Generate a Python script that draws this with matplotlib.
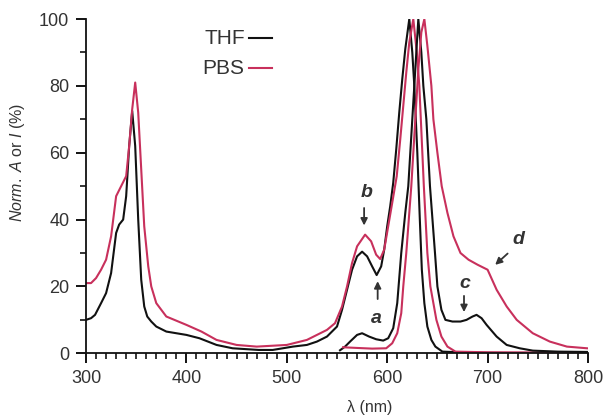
import matplotlib
matplotlib.use("Agg")
import matplotlib.pyplot as plt
from matplotlib.ticker import MultipleLocator

plt.rcParams['font.family'] = ['Liberation Sans', 'DejaVu Sans']
plt.rcParams['mathtext.fontset'] = 'custom'
plt.rcParams['mathtext.rm'] = 'Liberation Sans'
plt.rcParams['mathtext.it'] = 'Liberation Sans:italic'

# THF absorption
thf_abs_x = [300, 305, 309, 315, 320, 325, 330, 333, 337, 340, 343, 346, 349, 352, 355, 358,
             361, 365, 370, 380, 390, 400, 413, 430, 446, 472, 486, 506, 520, 530, 540, 550,
             555, 560, 565, 570, 575, 580, 585, 589.5, 594, 597, 600, 603, 606, 609, 612, 615,
             618, 622, 625, 627, 630, 632.5, 634.5, 637, 640, 644, 648, 655, 680, 720, 800]
thf_abs_y = [10, 10.5, 11.5, 15, 18, 24, 36, 38.5, 40, 47, 62, 72.5, 62, 40, 22, 14,
             11, 9.5, 8, 6.5, 6, 5.5, 4.5, 2.5, 1.5, 1, 1, 2, 2.5, 3.5, 5, 8,
             13, 19, 25, 29, 30.4, 29, 26, 23.4, 26, 31, 38, 44, 51, 61, 72, 82,
             91, 100, 90, 80, 60, 40, 25, 15, 8, 4, 2, 0.5, 0.2, 0.1, 0.1]

# PBS absorption
pbs_abs_x = [300, 305, 310, 315, 320, 325, 330, 335, 340, 343, 346, 349, 352, 355, 358, 362,
             365, 370, 380, 400, 415, 430, 450, 470, 500, 520, 530, 540, 548, 555, 560, 565,
             570, 578, 584, 589, 593, 597, 601, 605, 609.5, 613, 616, 619, 622, 626,
             629.5, 632, 633.5, 636.5, 640, 643, 649, 654, 660, 668, 700, 800]
pbs_abs_y = [21, 21, 22.5, 25, 28, 35, 47, 50, 53, 62, 73, 81, 72, 55, 38, 26,
             20, 15, 11, 8.5, 6.5, 4, 2.5, 2, 2.5, 4, 5.5, 7, 9, 14, 20, 27,
             32, 35.5, 33.5, 29.5, 28.2, 31, 38, 45, 53, 64, 74, 84, 93, 100,
             90, 80, 70, 50, 30, 20, 10, 5, 2, 0.5, 0.3, 0.2]

# THF emission
thf_em_x = [553, 558, 563, 570, 575, 582, 589, 596, 601, 606, 610, 614, 618, 621, 625, 628,
            631, 634, 636, 639, 642.6, 647.6, 650, 654, 658, 665, 673, 679, 685, 689, 694,
            699, 709, 719, 732, 745, 770, 800]
thf_em_y = [0.9, 2, 3.5, 5.5, 6, 5, 4.2, 3.8, 4.5, 7.5, 15, 30, 42, 50, 70, 85,
            100, 90, 80, 70, 50, 30, 20, 13, 10, 9.5, 9.5, 10, 11, 11.5, 10.5,
            8.5, 5, 2.5, 1.5, 0.8, 0.5, 0.4]

# PBS emission
pbs_em_x = [556, 570, 585, 599, 605, 610, 614, 616, 619, 624, 628, 631, 634, 637, 640, 644,
            646, 650, 654.3, 660, 666, 673, 681, 690, 700, 709, 719, 729, 745, 762, 779, 799]
pbs_em_y = [1.8, 1.6, 1.4, 1.5, 3, 6, 12, 20, 30, 50, 70, 85, 96, 100, 92, 80,
            70, 60, 50, 42, 35, 30, 28, 26.5, 25, 19, 14, 10, 6, 3.5, 2, 1.5]

labels = ['a', 'b', 'c', 'd']
label_text_xy = [(589, 10.5), (579, 48), (677.5, 21), (731, 34)]
label_arrow_from = [(590.5, 15.4), (577, 44.3), (676.5, 18), (722, 30.4)]
label_arrow_to = [(590.5, 22.4), (577, 37.4), (676.5, 11.5), (705.5, 25.9)]

black = '#111111'
pink = '#c8305c'
grey = '#333333'

fig = plt.figure(figsize=(6.04, 4.18), dpi=100)
ax = fig.add_axes([0.1424, 0.1548, 0.8311, 0.7997])

ax.plot(thf_abs_x, thf_abs_y, color=black, lw=1.5)
ax.plot(pbs_abs_x, pbs_abs_y, color=pink, lw=1.5)
ax.plot(thf_em_x, thf_em_y, color=black, lw=1.5)
ax.plot(pbs_em_x, pbs_em_y, color=pink, lw=1.5)

ax.set_xlim(300, 800)
ax.set_ylim(0, 100)
ax.xaxis.set_major_locator(MultipleLocator(100))
ax.xaxis.set_minor_locator(MultipleLocator(10))
ax.yaxis.set_major_locator(MultipleLocator(20))
ax.yaxis.set_minor_locator(MultipleLocator(10))
for s in ['top', 'right']:
    ax.spines[s].set_visible(False)
for s in ['left', 'bottom']:
    ax.spines[s].set_linewidth(1.3)
    ax.spines[s].set_color(black)
ax.tick_params(which='major', length=7, width=1.3, labelsize=13, labelcolor=grey, pad=5)
ax.tick_params(which='minor', length=4.5, width=1.1)

ax.set_ylabel(r'$\it{Norm.\ A}$ or $\it{I}$ (%)', fontsize=11.5, color=grey)
ax.yaxis.set_label_coords(-0.1175, 0.572)
ax.set_xlabel('λ (nm)', fontsize=11.5, color=grey)
ax.xaxis.set_label_coords(0.566, -0.14)

# legend drawn as text + line
ax.text(458, 94.3, 'THF', fontsize=15, color=grey, ha='right', va='center')
ax.text(458, 85.3, 'PBS', fontsize=15, color=grey, ha='right', va='center')
ax.plot([462, 485], [94.3, 94.3], color=black, lw=1.5)
ax.plot([462, 485], [85.3, 85.3], color=pink, lw=1.5)

for lab, txy, a0, a1 in zip(labels, label_text_xy, label_arrow_from, label_arrow_to):
    ax.text(txy[0], txy[1], lab, fontsize=14, fontweight='bold', style='italic',
            color=grey, ha='center', va='center')
    ax.annotate('', xy=a1, xytext=a0,
                arrowprops=dict(arrowstyle='-|>', color=grey, lw=1.3, mutation_scale=10))

fig.savefig('out.png', dpi=100)
